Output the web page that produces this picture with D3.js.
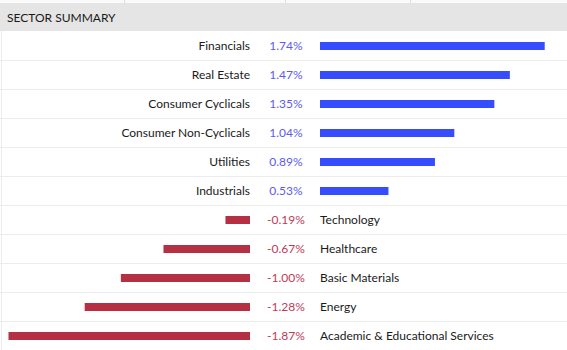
<!DOCTYPE html>
<html>
<head>
<meta charset="utf-8">
<script src="https://cdn.jsdelivr.net/npm/d3@7"></script>
<style>
  html, body { margin: 0; padding: 0; background: #fff; }
  svg { display: block; font-family: Lato, "Open Sans", sans-serif; }
</style>
</head>
<body>
<div id="chart"></div>
<script>
const title = "SECTOR SUMMARY";
const sectors = ["Financials", "Real Estate", "Consumer Cyclicals", "Consumer Non-Cyclicals", "Utilities", "Industrials", "Technology", "Healthcare", "Basic Materials", "Energy", "Academic & Educational Services"];
const changes = [1.74, 1.47, 1.35, 1.04, 0.89, 0.53, -0.19, -0.67, -1.00, -1.28, -1.87];

(function () {
const W = 567, H = 350;
const svg = d3.select("#chart").append("svg").attr("width", W).attr("height", H);

// top strip remnants (table above)
svg.append("rect").attr("x", 0).attr("y", 0).attr("width", W).attr("height", 3).attr("fill", "#fafafa");
[124, 285, 410].forEach(x => svg.append("line").attr("x1", x + 0.5).attr("x2", x + 0.5).attr("y1", 0).attr("y2", 3).attr("stroke", "#dcdcdc"));

// header
svg.append("rect").attr("x", 0).attr("y", 3).attr("width", W).attr("height", 28).attr("fill", "#e5e5e5");
svg.append("text").attr("x", 7).attr("y", 22).attr("font-size", 12).attr("fill", "#1a1a1a").text(title);

const tableTop = 31, rowH = 29;
const y = d3.scaleBand().domain(sectors).range([tableTop, tableTop + rowH * sectors.length]).paddingInner(0).paddingOuter(0);
const mag = d3.scaleLinear().domain([0, 1.87]).range([0, 241.5]);
const posX0 = 320, negX1 = 250, valX = 286;
const fmt = d3.formatLocale({ decimal: ".", thousands: ",", grouping: [3], currency: ["", ""], minus: "-" }).format(".2f");

// left border
svg.append("line").attr("x1", 1.5).attr("x2", 1.5).attr("y1", tableTop).attr("y2", H).attr("stroke", "#ececec");

const rows = svg.selectAll("g.row").data(sectors.map((s, i) => ({ s, v: changes[i] })))
  .join("g").attr("class", "row").attr("transform", d => `translate(0,${y(d.s)})`);

rows.filter((d, i) => i > 0).append("line")
  .attr("x1", 0).attr("x2", W).attr("y1", 0.5).attr("y2", 0.5).attr("stroke", "#ececec");

const cy = y.bandwidth() / 2;
const barH = 8;

rows.append("rect")
  .attr("x", d => d.v >= 0 ? posX0 : negX1 - mag(-d.v))
  .attr("y", cy - barH / 2 + 0.5)
  .attr("width", d => mag(Math.abs(d.v)))
  .attr("height", barH)
  .attr("fill", d => d.v >= 0 ? "#364dff" : "#b53043");

rows.append("text")
  .attr("x", valX).attr("y", cy + 4.5)
  .attr("text-anchor", "middle")
  .attr("font-size", 12)
  .attr("fill", d => d.v >= 0 ? "#5b5bf2" : "#c03a57")
  .text(d => fmt(d.v) + "%");

rows.append("text")
  .attr("x", d => d.v >= 0 ? 250 : 320)
  .attr("y", cy + 4.5)
  .attr("text-anchor", d => d.v >= 0 ? "end" : "start")
  .attr("font-size", 12)
  .attr("fill", "#1a1a1a")
  .text(d => d.s);
})();
</script>
</body>
</html>
